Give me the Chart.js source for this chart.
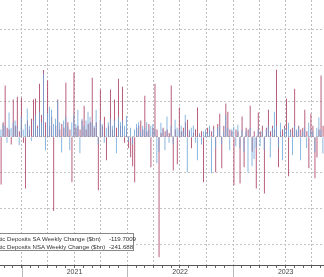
<!DOCTYPE html>
<html><head><meta charset="utf-8">
<script src="https://cdn.jsdelivr.net/npm/chart.js@4.4.0/dist/chart.umd.min.js"></script>
<style>
html,body{margin:0;padding:0;background:#fff;overflow:hidden;}
#wrap{position:relative;width:324px;height:277px;overflow:hidden;}
#legend{position:absolute;left:-24px;top:233px;width:158px;height:18px;border:1px solid #8a8a8a;background:#fff;
 font-family:"Liberation Sans",Arial,sans-serif;font-size:6.1px;color:#333;line-height:8px;padding-top:1px;box-sizing:border-box;}
#legend .row{position:relative;height:8px;white-space:nowrap;}
#legend .lab{position:absolute;left:3px;}
#legend .val{position:absolute;left:132px;}
</style></head>
<body><div id="wrap"><canvas id="c" width="324" height="277"></canvas><div id="legend"></div></div>
<script>
// first week (Wednesday) of the series
const startDate = '2020-10-21';
const weekCount = 160;
// weekly change, $bn
const saValues = [20,35,30,-15,67,25,40,45,30,-22,55,20,35,78,30,-10,45,60,25,70,
40,175,-36,65,83,75,35,50,100,40,-42,45,55,30,-36,40,60,35,75,-44,
50,30,45,69,55,40,30,75,-20,45,35,-15,25,40,50,30,45,-44,55,40,
45,30,58,-10,25,-20,20,35,40,15,30,25,40,20,30,35,20,-72,-40,39,
20,-36,56,-15,30,-20,47,25,20,30,15,61,-97,20,25,31,-15,-64,10,-20,
15,20,10,31,-100,20,-30,25,30,-20,15,60,25,-36,20,28,-25,33,-30,20,
-40,15,-97,25,-80,-60,-30,20,-25,15,-35,20,30,-56,25,69,30,-30,39,-64,
25,20,39,15,-50,30,20,28,-64,15,25,-30,39,20,15,-40,25,53,20,-45];
const nsaValues = [-131,40,142,25,20,-20,103,30,111,15,108,-15,-142,45,20,50,103,106,30,147,
60,185,40,156,30,55,-205,30,103,20,35,25,150,40,20,-125,178,25,30,20,
45,86,20,35,40,164,25,40,-147,131,30,55,-64,30,131,20,103,25,161,30,
139,-15,20,-30,-55,-80,-125,25,30,45,20,114,15,35,-83,25,147,20,-333,10,
25,15,20,10,142,-92,20,-75,81,15,25,40,47,15,-30,10,20,81,5,15,
-125,10,25,20,15,30,-97,35,64,-86,30,92,69,20,15,-133,20,15,-128,56,
-83,25,20,86,-40,15,-142,67,15,30,-156,25,75,15,30,20,186,-83,15,20,
30,106,-108,20,25,133,15,30,20,25,75,15,-86,64,30,-114,-56,20,170,30];
const seriesNames = ['Domestic Deposits SA Weekly Change ($bn)','Domestic Deposits NSA Weekly Change ($bn)'];
const legendValues = ['-119.7009','-241.688'];
const yTickValues = [-300,-200,-100,0,100,200,300];
const yearLabels = ['2021','2022','2023'];
const yearStarts = ['2021-01-01','2022-01-01','2023-01-01'];
const yearMids = ['2021-07-02','2022-07-02','2023-07-02'];
const quarterStarts = ['2021-01-01','2021-04-01','2021-07-01','2021-10-01','2022-01-01','2022-04-01','2022-07-01','2022-10-01','2023-01-01','2023-04-01','2023-07-01','2023-10-01'];
const monthStarts = ['2020-11-01','2020-12-01','2021-01-01','2021-02-01','2021-03-01','2021-04-01','2021-05-01','2021-06-01','2021-07-01','2021-08-01','2021-09-01','2021-10-01','2021-11-01','2021-12-01',
'2022-01-01','2022-02-01','2022-03-01','2022-04-01','2022-05-01','2022-06-01','2022-07-01','2022-08-01','2022-09-01','2022-10-01','2022-11-01','2022-12-01',
'2023-01-01','2023-02-01','2023-03-01','2023-04-01','2023-05-01','2023-06-01','2023-07-01','2023-08-01','2023-09-01','2023-10-01','2023-11-01'];

const t0 = Date.parse(startDate);
const idx = d => (Date.parse(d) - t0) / (7 * 86400000);
const weeks = [];
for (let i = 0; i < weekCount; i++) weeks.push(new Date(t0 + i * 7 * 86400000).toISOString().slice(0, 10));

const SA_COLOR = '#6fa7da', NSA_COLOR = '#a8385c';

document.getElementById('legend').innerHTML = seriesNames.map((n, k) =>
  '<div class="row"><span class="lab">' + n + '</span><span class="val">' + legendValues[k] + '</span></div>').join('');

// year separators below the axis, placed with the x scale
const yearSeparators = {
  id: 'yearSeparators',
  afterDraw(chart) {
    const { ctx, chartArea, scales: { x } } = chart;
    ctx.save();
    ctx.strokeStyle = '#b8b8b8';
    ctx.lineWidth = 1;
    yearStarts.forEach(d => {
      const px = Math.round(x.getPixelForValue(idx(d))) + 0.5;
      ctx.beginPath(); ctx.moveTo(px, chartArea.bottom + 1); ctx.lineTo(px, chart.height); ctx.stroke();
    });
    ctx.restore();
  }
};

new Chart(document.getElementById('c'), {
  type: 'bar',
  data: {
    datasets: [
      { label: seriesNames[0], data: saValues.map((v, i) => ({ x: i, y: v })), backgroundColor: SA_COLOR, borderWidth: 0 },
      { label: seriesNames[1], data: nsaValues.map((v, i) => ({ x: i, y: v })), backgroundColor: NSA_COLOR, borderWidth: 0 }
    ]
  },
  plugins: [yearSeparators],
  options: {
    responsive: false, animation: false, devicePixelRatio: 1,
    layout: { padding: 0 },
    plugins: { legend: { display: false }, tooltip: { enabled: false } },
    datasets: { bar: { barPercentage: 1, categoryPercentage: 1, grouped: true } },
    scales: {
      x: {
        type: 'linear', position: 'bottom', min: -0.5, max: weekCount - 0.5, offset: false,
        afterBuildTicks: ax => {
          const t = monthStarts.map(d => ({ value: idx(d), q: quarterStarts.includes(d), yr: '' }));
          yearMids.forEach((d, k) => t.push({ value: idx(d), q: false, yr: yearLabels[k] }));
          t.sort((a, b) => a.value - b.value);
          ax.ticks = t;
        },
        grid: {
          offset: false,
          color: c => (c.tick && c.tick.q) ? '#bdbdbd' : 'rgba(0,0,0,0)',
          tickColor: c => (c.tick && c.tick.yr) ? 'rgba(0,0,0,0)' : '#666',
          lineWidth: 1, drawTicks: true, tickLength: 3
        },
        border: { display: true, color: '#555', width: 1, dash: [2, 2] },
        ticks: {
          autoSkip: false, maxRotation: 0, minRotation: 0, padding: 1,
          color: '#444', font: { family: 'Liberation Sans', size: 7, lineHeight: 1 },
          callback: (v, i, ticks) => ticks[i].yr
        }
      },
      y: {
        min: -355.6, max: 380.6,
        afterBuildTicks: ax => { ax.ticks = yTickValues.map(v => ({ value: v })); },
        grid: { color: '#c4c4c4', lineWidth: 1, drawTicks: false },
        border: { display: false, dash: [2, 2] },
        ticks: { display: false }
      }
    }
  }
});
</script>
</body></html>
